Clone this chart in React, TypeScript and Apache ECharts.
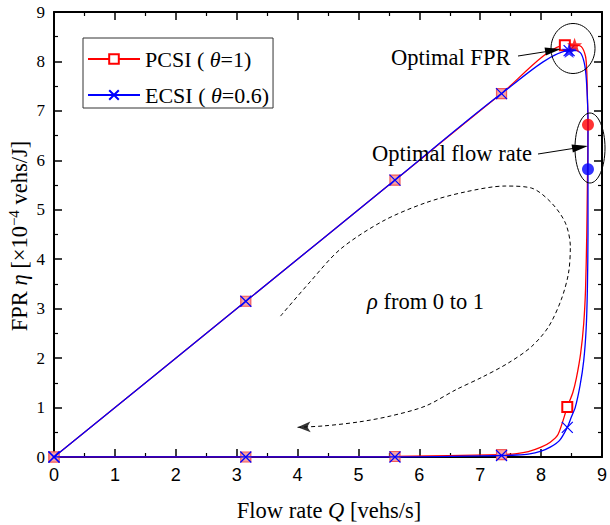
import React, { useEffect, useRef } from 'react';
import * as echarts from 'echarts';

// ---- data (Q [vehs/s], eta [x1e-4 vehs/J]) ----
const pcsiCurve: number[][] = [
  [0, 0], [3.15, 3.15], [5.6, 5.6], [7.35, 7.35], [8.39, 8.33], [8.55, 8.33], [8.66, 8.3],
  [8.73, 8.1], [8.75, 7.8], [8.76, 7.3], [8.77, 6.72], [8.76, 5.5], [8.75, 4.5], [8.73, 3.4],
  [8.7, 2.7], [8.65, 2.1], [8.58, 1.6], [8.52, 1.3], [8.43, 1.01], [8.28, 0.46], [8.15, 0.3],
  [8.0, 0.2], [7.79, 0.11], [7.6, 0.07], [7.35, 0.05], [5.6, 0.01], [3.15, 0], [0, 0],
];
const pcsiMarkerIdx: number[] = [0, 1, 2, 3, 4, 18, 24, 25, 26, 27];
const pcsiShadedIdx: number[] = [0, 1, 2, 3, 24, 25, 26, 27];

const ecsiCurve: number[][] = [
  [0, 0], [3.15, 3.15], [5.6, 5.6], [7.35, 7.35], [8.46, 8.22], [8.58, 8.22], [8.66, 8.15],
  [8.72, 7.9], [8.75, 7.5], [8.77, 6.8], [8.77, 5.82], [8.77, 4.5], [8.76, 3.4], [8.74, 2.6],
  [8.7, 1.95], [8.64, 1.45], [8.56, 1.0], [8.5, 0.82], [8.43, 0.6], [8.3, 0.33], [8.15, 0.2],
  [8.0, 0.12], [7.79, 0.06], [7.6, 0.04], [7.35, 0.03], [5.6, 0], [3.15, 0], [0, 0],
];
const ecsiMarkerIdx: number[] = [0, 1, 2, 3, 4, 18, 24, 25, 26, 27];

const optimalFpr: number[][] = [[8.55, 8.33], [8.46, 8.22]];
const optimalFlow: number[][] = [[8.77, 6.72], [8.77, 5.82]];

// dashed "rho from 0 to 1" guide curve
const rhoGuide: number[][] = [
  [3.72, 2.85], [4.19, 3.52], [4.7, 4.2], [5.4, 4.77], [6.1, 5.14], [6.75, 5.36], [7.41, 5.48],
  [7.84, 5.44], [8.17, 5.14], [8.4, 4.73], [8.48, 4.25], [8.45, 3.72], [8.33, 3.18], [8.12, 2.63],
  [7.84, 2.23], [7.46, 1.9], [7.04, 1.62], [6.6, 1.36], [6.1, 1.03], [5.53, 0.83], [5.01, 0.71],
  [4.44, 0.63], [4.0, 0.6],
];

const SERIF = '"Liberation Serif", "Times New Roman", serif';
const SANS = '"Liberation Sans", Arial, sans-serif';
const RED = '#ff0000';
const BLUE = '#0000ff';
const STAR = 'path://M0,-10L2.35,-3.24L9.51,-3.09L3.8,1.24L5.88,8.09L0,4L-5.88,8.09L-3.8,1.24L-9.51,-3.09L-2.35,-3.24Z';
const CROSS = 'path://M0,0L10,10M10,0L0,10';
const FS = 22.5;

const pcsiData = pcsiCurve.map((p, i) => {
  if (!pcsiMarkerIdx.includes(i)) return { value: p, symbol: 'none' };
  if (pcsiShadedIdx.includes(i))
    return { value: p, symbol: 'rect', itemStyle: { color: '#f6a3a3', borderColor: '#f25a5a', borderWidth: 1.2 } };
  return p;
});
const ecsiData = ecsiCurve.map((p, i) => (ecsiMarkerIdx.includes(i) ? p : { value: p, symbol: 'none' }));

const axisCommon = {
  type: 'value' as const,
  min: 0,
  max: 9,
  interval: 1,
  axisLine: { show: true, onZero: false, lineStyle: { color: '#000', width: 2 } },
  axisTick: { show: true, inside: true, length: 8, lineStyle: { color: '#000', width: 1.5 } },
  minorTick: { show: true, splitNumber: 2, length: 4, lineStyle: { color: '#000', width: 1.2 } },
  splitLine: { show: false },
};

function arrowHead(tx: number, ty: number, fx: number, fy: number, len: number, hw: number) {
  const dx = tx - fx, dy = ty - fy;
  const L = Math.hypot(dx, dy);
  const ux = dx / L, uy = dy / L;
  const bx = tx - ux * len, by = ty - uy * len;
  const nx = -uy, ny = ux;
  return [[tx, ty], [bx + nx * hw, by + ny * hw], [bx - nx * hw, by - ny * hw]];
}

export default function App() {
  const ref = useRef<HTMLDivElement>(null);
  useEffect(() => {
    document.body.style.margin = '0';
    const chart = echarts.init(ref.current!, null, { renderer: 'svg' });
    const option: any = {
      animation: false,
      backgroundColor: '#fff',
      grid: { left: 54, right: 6, top: 12, bottom: 68, containLabel: false },
      xAxis: [
        {
          ...axisCommon,
          position: 'bottom',
          axisLabel: { show: true, margin: 9, color: '#000', fontFamily: SANS, fontSize: 18 },
        },
        { ...axisCommon, position: 'top', axisLabel: { show: false } },
      ],
      yAxis: [
        {
          ...axisCommon,
          position: 'left',
          axisLabel: { show: true, margin: 9, color: '#000', fontFamily: SERIF, fontSize: 17 },
        },
        { ...axisCommon, position: 'right', axisLabel: { show: false } },
      ],
      legend: {
        left: 83,
        top: 38,
        orient: 'vertical',
        itemWidth: 52,
        itemHeight: 12,
        itemGap: 14,
        padding: [10, 4, 2, 4],
        borderColor: '#333',
        borderWidth: 1,
        backgroundColor: '#fff',
        data: ['PCSI', 'ECSI'],
        formatter: (name: string) =>
          name === 'PCSI' ? '{n|PCSI ( }{i|θ}{n|=1)}' : '{n|ECSI ( }{i|θ}{n|=0.6)}',
        textStyle: {
          color: '#000',
          fontFamily: SERIF,
          fontSize: 22,
          rich: {
            n: { fontFamily: SERIF, fontSize: 22, color: '#000', lineHeight: 20 },
            i: { fontFamily: SERIF, fontSize: 22, fontStyle: 'italic', color: '#000', lineHeight: 20 },
          },
        },
      },
      series: [
        {
          name: 'rho',
          type: 'line',
          data: rhoGuide,
          symbol: 'none',
          smooth: 0.3,
          lineStyle: { color: '#000', width: 1, type: [4, 3] },
          silent: true,
          z: 1,
        },
        {
          name: 'rhoArrow',
          type: 'scatter',
          data: [rhoGuide[rhoGuide.length - 1]],
          symbol: 'arrow',
          symbolSize: [8, 13],
          symbolRotate: 92,
          itemStyle: { color: '#000' },
          silent: true,
          z: 2,
        },
        {
          name: 'PCSI',
          type: 'line',
          data: pcsiData,
          symbol: 'emptyRect',
          symbolSize: 10,
          showSymbol: true,
          smooth: 0.25,
          lineStyle: { color: RED, width: 1.3 },
          itemStyle: { color: RED, borderColor: RED, borderWidth: 1.2 },
          z: 3,
        },
        {
          name: 'ECSI',
          type: 'line',
          data: ecsiData,
          symbol: CROSS,
          symbolSize: 11,
          showSymbol: true,
          smooth: 0.25,
          lineStyle: { color: BLUE, width: 1.3 },
          itemStyle: { color: BLUE, borderColor: BLUE, borderWidth: 1.2 },
          z: 4,
        },
        {
          name: 'optFpr',
          type: 'scatter',
          data: [
            { value: optimalFpr[0], itemStyle: { color: RED } },
            { value: optimalFpr[1], itemStyle: { color: BLUE } },
          ],
          symbol: STAR,
          symbolSize: 15,
          z: 5,
        },
        {
          name: 'optFlow',
          type: 'scatter',
          data: [
            { value: optimalFlow[0], itemStyle: { color: RED } },
            { value: optimalFlow[1], itemStyle: { color: BLUE } },
          ],
          symbol: 'circle',
          symbolSize: 12,
          z: 5,
        },
      ],
      graphic: [
        { type: 'ellipse', shape: { cx: 573, cy: 48.5, rx: 22, ry: 25 }, style: { fill: 'none', stroke: '#000', lineWidth: 1 }, z: 10 },
        { type: 'ellipse', shape: { cx: 590, cy: 148, rx: 15, ry: 35 }, style: { fill: 'none', stroke: '#000', lineWidth: 1 }, z: 10 },
        { type: 'line', shape: { x1: 518, y1: 56, x2: 550, y2: 51 }, style: { stroke: '#000', lineWidth: 1 }, z: 10 },
        { type: 'polygon', shape: { points: arrowHead(561, 49, 518, 56, 16, 4) }, style: { fill: '#000' }, z: 10 },
        { type: 'line', shape: { x1: 538, y1: 154, x2: 576, y2: 148 }, style: { stroke: '#000', lineWidth: 1 }, z: 10 },
        { type: 'polygon', shape: { points: arrowHead(588, 146, 538, 154, 16, 4) }, style: { fill: '#000' }, z: 10 },
        {
          type: 'text', x: 391, y: 57,
          style: { text: 'Optimal FPR', fontFamily: SERIF, fontSize: FS, fill: '#000', verticalAlign: 'middle' },
          z: 10,
        },
        {
          type: 'text', x: 372, y: 153,
          style: { text: 'Optimal flow rate', fontFamily: SERIF, fontSize: FS, fill: '#000', verticalAlign: 'middle' },
          z: 10,
        },
        {
          type: 'text', x: 367, y: 301,
          style: {
            text: '{i|ρ}{n| from 0 to 1}',
            verticalAlign: 'middle',
            rich: {
              i: { fontFamily: SERIF, fontSize: FS, fontStyle: 'italic', fill: '#000' },
              n: { fontFamily: SERIF, fontSize: FS, fill: '#000' },
            },
          },
          z: 10,
        },
        {
          type: 'text', x: 329, y: 510,
          style: {
            text: '{n|Flow rate }{i|Q}{n| [vehs/s]}',
            align: 'center',
            verticalAlign: 'middle',
            rich: {
              i: { fontFamily: SERIF, fontSize: FS, fontStyle: 'italic', fill: '#000' },
              n: { fontFamily: SERIF, fontSize: FS, fill: '#000' },
            },
          },
          z: 10,
        },
        {
          type: 'text', x: 19, y: 236, rotation: Math.PI / 2,
          style: {
            text: '{n|FPR }{i|η}{n| [×10}{s|−4}{n| vehs/J]}',
            align: 'center',
            verticalAlign: 'middle',
            rich: {
              n: { fontFamily: SERIF, fontSize: FS, fill: '#000', lineHeight: 26 },
              i: { fontFamily: SERIF, fontSize: FS, fontStyle: 'italic', fill: '#000', lineHeight: 26 },
              s: { fontFamily: SERIF, fontSize: 15, fill: '#000', lineHeight: 15, verticalAlign: 'top' },
            },
          },
          z: 10,
        },
      ],
    };
    chart.setOption(option);
    return () => chart.dispose();
  }, []);
  return <div ref={ref} style={{ width: 610, height: 525 }} />;
}
